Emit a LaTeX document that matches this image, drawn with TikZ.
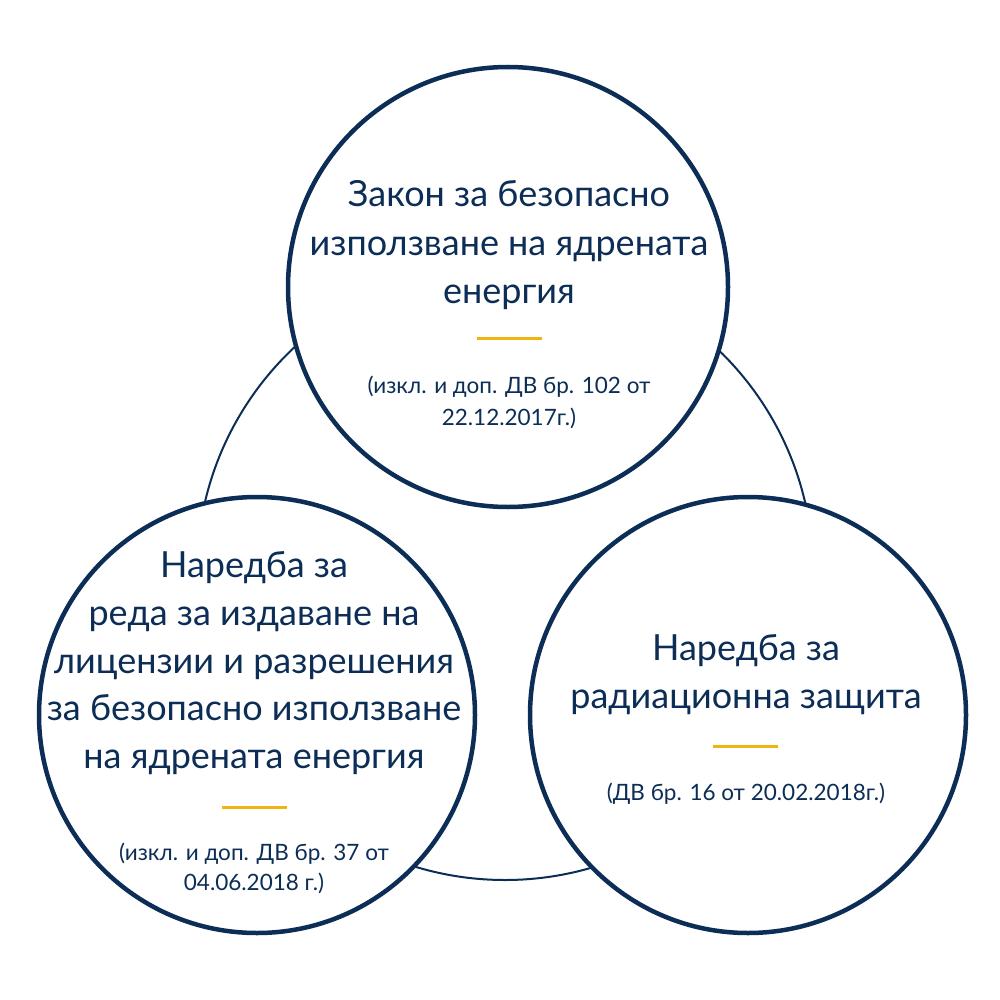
\documentclass[tikz,border=0pt]{standalone}
\usepackage{fontspec}
\setmainfont{Lato}
\definecolor{navy}{HTML}{0C2D55}
\definecolor{gold}{HTML}{EEB40F}
\tikzset{
  bigcircle/.style={circle, draw=navy, line width=4.5pt, fill=white, minimum size=#1, inner sep=0pt},
  ringline/.style={draw=navy, line width=2pt},
  mainline/.style={anchor=base, text=navy, inner sep=0pt, font=\fontsize{36}{48}\selectfont},
  smallline/.style={anchor=base, text=navy, inner sep=0pt, font=\fontsize{22.5}{32}\selectfont},
  goldbar/.style={draw=gold, line width=3pt}
}
\begin{document}
\begin{tikzpicture}[x=1pt,y=-1pt]
\useasboundingbox (0,0) rectangle (1000,1000);
% background ring
\node[circle, ringline, minimum size=616pt, inner sep=0pt] (ring) at (505,572) {};
% circles
\node[bigcircle=440pt] (top) at (508,287) {};
\node[bigcircle=436pt] (left) at (257,715) {};
\node[bigcircle=436pt] (right) at (748,715) {};
% top texts
\node[mainline] (t1) at (509,207) {Закон за безопасно};
\node[mainline] (t2) at (509,255) {използване на ядрената};
\node[mainline] (t3) at (509,303) {енергия};
\coordinate (tba) at (477,338); \coordinate (tbb) at (542,338);
\draw[goldbar] (tba) -- (tbb);
\node[smallline] (t4) at (509,393) {(изкл. и доп. ДВ бр. 102 от};
\node[smallline] (t5) at (509,425) {22.12.2017г.)};
% left texts
\node[mainline] (l1) at (254,577) {Наредба за};
\node[mainline] (l2) at (254,625) {реда за издаване на};
\node[mainline] (l3) at (254,673) {лицензии и разрешения};
\node[mainline] (l4) at (254,720) {за безопасно използване};
\node[mainline] (l5) at (254,768) {на ядрената енергия};
\coordinate (lba) at (222,807); \coordinate (lbb) at (287,807);
\draw[goldbar] (lba) -- (lbb);
\node[smallline] (l6) at (254,860) {(изкл. и доп. ДВ бр. 37 от};
\node[smallline] (l7) at (254,890) {04.06.2018 г.)};
% right texts
\node[mainline] (r1) at (746,660) {Наредба за};
\node[mainline] (r2) at (746,708) {радиационна защита};
\coordinate (rba) at (713,746); \coordinate (rbb) at (778,746);
\draw[goldbar] (rba) -- (rbb);
\node[smallline] (r3) at (746,800) {(ДВ бр. 16 от 20.02.2018г.)};
\end{tikzpicture}
\end{document}
